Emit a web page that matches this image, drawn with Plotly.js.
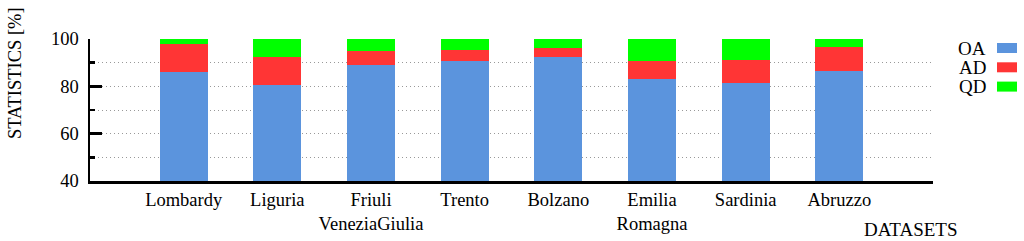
<!DOCTYPE html>
<html>
<head>
<meta charset="utf-8">
<script src="https://cdn.plot.ly/plotly-3.0.1.min.js"></script>
<style>
  html, body { margin: 0; padding: 0; background: #fff; }
  #chart { width: 1024px; height: 241px; }
</style>
</head>
<body>
<div id="chart"></div>
<script>
// regions (datasets), stacked percentages
var regions = ["Lombardy", "Liguria", "Friuli<br>VeneziaGiulia", "Trento", "Bolzano", "Emilia<br>Romagna", "Sardinia", "Abruzzo"];
var positions = [1, 2, 3, 4, 5, 6, 7, 8];
var oa = [86.2, 80.4, 89.0, 90.8, 92.3, 83.1, 81.3, 86.5];
var ad = [11.6, 11.9, 5.8, 4.6, 3.8, 7.7, 9.8, 10.1];
var qd = [2.2, 7.7, 5.2, 4.6, 3.9, 9.2, 8.9, 3.4];

var seriesNames = ["OA", "AD", "QD"];
var colors = ["#5b94dd", "#ff3535", "#00ff00"];

var font = "Liberation Serif";

var traces = [oa, ad, qd].map(function (vals, i) {
  return {
    type: "bar",
    x: positions,
    y: vals,
    name: seriesNames[i],
    width: 0.51,
    marker: { color: colors[i], line: { width: 0 } },
    showlegend: false
  };
});

// legend drawn by hand: label left of swatch
var shapes = [];
var annotations = [];
seriesNames.forEach(function (n, i) {
  var yc = 48 + i * 19.3;
  shapes.push({
    type: "rect", xref: "paper", yref: "paper",
    x0: (997 - 90) / 843, x1: (1017 - 90) / 843,
    y0: (181 - (yc - 5)) / 142, y1: (181 - (yc + 5)) / 142,
    fillcolor: colors[i], line: { width: 0 }
  });
  annotations.push({
    xref: "paper", yref: "paper", x: (988 - 90) / 843, y: (181 - yc) / 142,
    xanchor: "right", yanchor: "middle", showarrow: false,
    text: n, font: { family: font, size: 19, color: "#000" }
  });
});

annotations.push({
  xref: "paper", yref: "paper", x: (911 - 90) / 843, y: (181 - 229) / 142,
  xanchor: "center", yanchor: "middle", showarrow: false,
  text: "DATASETS", font: { family: font, size: 19, color: "#000" }
});
annotations.push({
  xref: "paper", yref: "paper", x: (15 - 90) / 843, y: (181 - 73) / 142,
  xanchor: "center", yanchor: "middle", showarrow: false, textangle: -90,
  text: "STATISTICS [%]", font: { family: font, size: 18.5, color: "#000" }
});

var layout = {
  width: 1024,
  height: 241,
  margin: { l: 90, r: 91, t: 39, b: 60, pad: 0 },
  barmode: "stack",
  bargap: 0,
  paper_bgcolor: "#fff",
  plot_bgcolor: "#fff",
  font: { family: font, size: 18, color: "#000" },
  showlegend: false,
  xaxis: {
    range: [0, 9],
    tickvals: positions,
    ticktext: regions,
    ticks: "",
    showgrid: false,
    zeroline: false,
    showline: true,
    linecolor: "#000",
    linewidth: 2.5,
    tickfont: { family: font, size: 18.5 },
    ticklabelstandoff: 0
  },
  yaxis: {
    range: [40, 100],
    tickvals: [40, 60, 80, 100],
    ticks: "inside",
    ticklen: 12,
    tickwidth: 2.5,
    tickcolor: "#000",
    showline: true,
    linecolor: "#000",
    linewidth: 2.5,
    zeroline: false,
    showgrid: true,
    gridcolor: "#999",
    griddash: "1px,3px",
    gridwidth: 1,
    tickfont: { family: font, size: 18.5 },
    ticklabelstandoff: 5,
    minor: {
      tickvals: [50, 70, 90],
      ticks: "inside",
      ticklen: 5,
      tickwidth: 2.5,
      tickcolor: "#000",
      showgrid: true,
      gridcolor: "#999",
      griddash: "1px,3px",
      gridwidth: 1
    }
  },
  shapes: shapes,
  annotations: annotations
};

Plotly.newPlot("chart", traces, layout, { staticPlot: true, displayModeBar: false });
</script>
</body>
</html>
